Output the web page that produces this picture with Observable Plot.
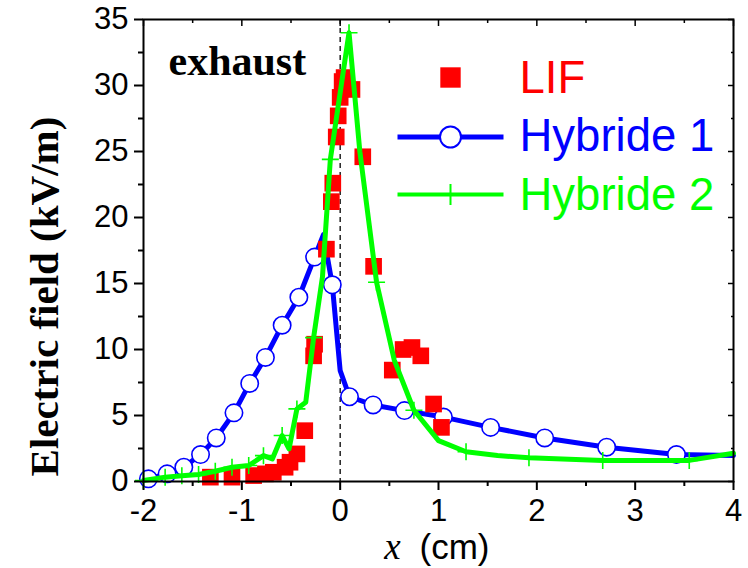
<!DOCTYPE html>
<html>
<head>
<meta charset="utf-8">
<script src="https://cdn.jsdelivr.net/npm/d3@7"></script>
<script src="https://cdn.jsdelivr.net/npm/@observablehq/plot@0.6"></script>
<style>
  html, body { margin: 0; padding: 0; background: #fff; }
  #chart { width: 748px; height: 568px; }
</style>
</head>
<body>
<div id="chart"></div>
<script>
// ---- Data ----
const xTicks = [-2, -1, 0, 1, 2, 3, 4];
const xMinor = [-1.5, -0.5, 0.5, 1.5, 2.5, 3.5];
const yTicks = [0, 5, 10, 15, 20, 25, 30, 35];
const yMinor = [2.5, 7.5, 12.5, 17.5, 22.5, 27.5, 32.5];

// LIF measurements
const lifX = [-1.32, -1.10, -0.88, -0.76, -0.68, -0.56, -0.51, -0.44, -0.36, -0.27, -0.26,
  -0.14, -0.09, -0.075, -0.04, -0.02, 0.0, 0.02, 0.04, 0.12, 0.23, 0.34, 0.53, 0.64, 0.73, 0.82, 0.95, 1.03];
const lifY = [0.33, 0.33, 0.45, 0.58, 0.70, 1.08, 1.46, 2.09, 3.85, 9.52, 10.4,
  17.6, 21.2, 22.6, 26.1, 27.7, 29.1, 30.3, 30.6, 29.7, 24.6, 16.3, 8.44, 10.0, 10.15, 9.52, 5.87, 4.1];

// Hybride 1 (line vertices; marked = drawn with a circle)
const hyb1X = [-1.95, -1.76, -1.59, -1.42, -1.26, -1.08, -0.92, -0.76, -0.59, -0.42, -0.26, -0.17,
  -0.08, 0.0, 0.095, 0.335, 0.654, 1.05, 1.53, 2.08, 2.71, 3.42, 4.0];
const hyb1Y = [0.2, 0.58, 1.08, 2.04, 3.3, 5.2, 7.43, 9.4, 11.84, 13.96, 17.0, 18.7,
  14.9, 8.4, 6.42, 5.8, 5.37, 4.88, 4.1, 3.3, 2.6, 2.04, 1.97];
const hyb1Marked = [1, 1, 1, 1, 1, 1, 1, 1, 1, 1, 1, 0,
  1, 0, 1, 1, 1, 1, 1, 1, 1, 1, 0];

// Hybride 2 (line vertices; marked = drawn with a plus)
const hyb2X = [-2.0, -1.78, -1.61, -1.44, -1.27, -1.10, -0.93, -0.78, -0.69, -0.59, -0.52, -0.44, -0.35,
  -0.27, -0.18, -0.10, 0.09, 0.20, 0.37, 0.55, 0.75, 1.0, 1.28, 1.6, 1.92, 2.67, 3.55, 4.0];
const hyb2Y = [0.07, 0.33, 0.43, 0.53, 0.78, 1.08, 1.21, 1.96, 1.71, 3.48, 2.47, 5.5, 6.0,
  10.9, 15.5, 24.4, 34.0, 25.0, 15.1, 9.2, 5.4, 3.1, 2.25, 1.97, 1.8, 1.6, 1.6, 2.14];
const hyb2Marked = [1, 1, 1, 1, 1, 1, 1, 1, 0, 1, 0, 1, 0,
  1, 0, 1, 1, 0, 1, 0, 1, 0, 1, 0, 1, 1, 1, 0];

const seriesNames = ["LIF", "Hybride 1", "Hybride 2"];
const seriesColors = ["#ff0000", "#0000ff", "#00ff00"];

// ---- Build tables ----
const lif = lifX.map((x, i) => ({x, y: lifY[i]}));
const hyb1 = hyb1X.map((x, i) => ({x, y: hyb1Y[i], m: hyb1Marked[i]}));
const hyb2 = hyb2X.map((x, i) => ({x, y: hyb2Y[i], m: hyb2Marked[i]}));

const thinPlus = {
  draw(ctx, size) {
    const r = Math.sqrt(size / Math.PI);
    ctx.moveTo(-r, 0); ctx.lineTo(r, 0);
    ctx.moveTo(0, -r); ctx.lineTo(0, r);
  }
};
const legendLine = {
  draw(ctx) { ctx.moveTo(-53, 0); ctx.lineTo(53, 0); }
};

const tickFont = "Liberation Sans, Arial, sans-serif";
const serif = "Liberation Serif, Times New Roman, serif";

const legendFont = 45.5;
const legendDx = 307;           // glyph centre from frame left
const legendTextDx = 376;       // text start from frame left
const legendDy = [58, 117.5, 175];
const legendTextDy = [59, 117, 175.5];

const chart = Plot.plot({
  width: 748,
  height: 568,
  marginLeft: 143,
  marginRight: 15,
  marginTop: 19,
  marginBottom: 87,
  x: {domain: [-2, 4]},
  y: {domain: [0, 35]},
  style: {fontFamily: tickFont, fontSize: "31px", background: "#fff", color: "#000"},
  marks: [
    // dashed reference at x = 0
    Plot.ruleX([0], {stroke: "#000", strokeWidth: 1.3, strokeDasharray: "5,4"}),

    // Hybride 1
    Plot.line(hyb1, {x: "x", y: "y", stroke: seriesColors[1], strokeWidth: 5, strokeLinejoin: "round"}),
    Plot.dot(hyb1.filter(d => d.m), {x: "x", y: "y", r: 8.7, fill: "#fff", stroke: seriesColors[1], strokeWidth: 1.6}),

    // LIF
    Plot.dot(lif, {x: "x", y: "y", symbol: "square", r: 9.4, fill: seriesColors[0], stroke: "none"}),

    // Hybride 2
    Plot.line(hyb2, {x: "x", y: "y", stroke: seriesColors[2], strokeWidth: 5, strokeLinejoin: "round"}),
    Plot.dot(hyb2.filter(d => d.m), {x: "x", y: "y", symbol: thinPlus, r: 8.5, fill: "none", stroke: seriesColors[2], strokeWidth: 1.6}),

    // axes
    Plot.axisX({ticks: xTicks, tickSize: 9, tickPadding: 8, tickFormat: d => String(d), label: null, strokeWidth: 2, fontSize: 31}),
    Plot.axisX({ticks: xMinor, tickSize: 5, tickFormat: () => "", label: null, strokeWidth: 2}),
    Plot.axisY({ticks: yTicks, tickSize: 9, tickPadding: 6, tickFormat: d => String(d), label: null, strokeWidth: 2, fontSize: 31}),
    Plot.axisY({ticks: yMinor, tickSize: 5, tickFormat: () => "", label: null, strokeWidth: 2}),
    Plot.axisX({anchor: "top", ticks: xTicks, tickSize: -6, tickFormat: () => "", label: null, strokeWidth: 1.5}),
    Plot.axisX({anchor: "top", ticks: xMinor, tickSize: -3, tickFormat: () => "", label: null, strokeWidth: 1.5}),
    Plot.axisY({anchor: "right", ticks: yTicks, tickSize: -6, tickFormat: () => "", label: null, strokeWidth: 1.5}),
    Plot.axisY({anchor: "right", ticks: yMinor, tickSize: -3, tickFormat: () => "", label: null, strokeWidth: 1.5}),
    Plot.frame({stroke: "#000", strokeWidth: 2}),

    // annotation
    Plot.text(["exhaust"], {frameAnchor: "top-left", dx: 25, dy: 42.5, text: d => d, textAnchor: "start", lineAnchor: "middle",
      fontFamily: serif, fontWeight: "bold", fontSize: 42, fill: "#000"}),

    // axis titles
    Plot.text(["Electric field (kV/m)"], {frameAnchor: "left", dx: -99, dy: 46, rotate: -90, text: d => d,
      textAnchor: "middle", lineAnchor: "middle",
      fontFamily: serif, fontWeight: "bold", fontSize: 41, fill: "#000"}),
    Plot.text(["x"], {frameAnchor: "bottom", dx: -46, dy: 66, text: d => d, textAnchor: "middle", lineAnchor: "middle",
      fontFamily: serif, fontStyle: "italic", fontSize: 37, fill: "#000"}),
    Plot.text(["(cm)"], {frameAnchor: "bottom", dx: -19, dy: 66, text: d => d, textAnchor: "start", lineAnchor: "middle",
      fontFamily: tickFont, fontSize: 35, fill: "#000"}),

    // legend glyphs
    Plot.dot([0], {frameAnchor: "top-left", dx: legendDx, dy: legendDy[0], symbol: "square", r: 11.5, fill: seriesColors[0], stroke: "none"}),
    Plot.dot([0], {frameAnchor: "top-left", dx: legendDx, dy: legendDy[1], symbol: legendLine, fill: "none", stroke: seriesColors[1], strokeWidth: 5}),
    Plot.dot([0], {frameAnchor: "top-left", dx: legendDx, dy: legendDy[1], r: 10.5, fill: "#fff", stroke: seriesColors[1], strokeWidth: 2}),
    Plot.dot([0], {frameAnchor: "top-left", dx: legendDx, dy: legendDy[2], symbol: legendLine, fill: "none", stroke: seriesColors[2], strokeWidth: 4}),
    Plot.dot([0], {frameAnchor: "top-left", dx: legendDx, dy: legendDy[2], symbol: thinPlus, r: 10.5, fill: "none", stroke: seriesColors[2], strokeWidth: 2}),

    // legend labels
    ...seriesNames.map((name, i) => Plot.text([name], {frameAnchor: "top-left", dx: legendTextDx, dy: legendTextDy[i], text: d => d,
      textAnchor: "start", lineAnchor: "middle", fontSize: legendFont, fontFamily: tickFont, fill: seriesColors[i]}))
  ]
});
document.getElementById("chart").appendChild(chart);
</script>
</body>
</html>
